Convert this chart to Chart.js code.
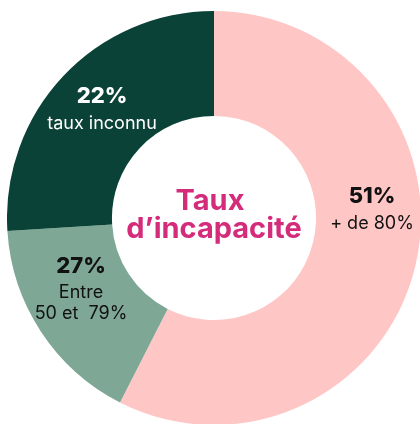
<!DOCTYPE html>
<html>
<head>
<meta charset="utf-8">
<script src="https://cdn.jsdelivr.net/npm/chart.js@4/dist/chart.umd.min.js"></script>
<style>
  html, body { margin: 0; padding: 0; background: #fff; overflow: hidden; width: 420px; height: 424px; }
  #wrap { position: absolute; left: 7px; top: 11px; width: 414px; height: 414px; }
</style>
</head>
<body>
<div id="wrap"><canvas id="donut"></canvas></div>
<script>
// categories, in drawing order (clockwise from the top)
const categories = ['+ de 80%', 'Entre 50 et 79%', 'taux inconnu'];
// share of the ring each slice takes in the picture
const sliceShares = [57.5, 16.5, 26];
// percentages printed on the slices
const percentLabels = ['51%', '27%', '22%'];
// caption lines under each percentage
const captionLines = [['+ de 80%'], ['Entre', '50 et  79%'], ['taux inconnu']];
const centerTitle = ['Taux', 'd\u2019incapacité'];

const sliceColors = ['#ffc6c6', '#7ea796', '#0a4237'];
const textColors = ['#111111', '#111111', '#ffffff'];
// where each label block sits, relative to the ring centre
const labelOffsets = [[158, -8], [-133, 72], [-112, -108]];

const FONT = 'Inter, "Noto Sans", sans-serif';

const labelPlugin = {
    id: 'sliceLabels',
    afterDraw(chart) {
        const ctx = chart.ctx;
        const arc = chart.getDatasetMeta(0).data[0];
        const cx = arc.x, cy = arc.y;
        ctx.save();
        ctx.textAlign = 'center';
        ctx.textBaseline = 'middle';

        percentLabels.forEach((pct, i) => {
            const x = cx + labelOffsets[i][0];
            const lines = captionLines[i];
            const blockH = 27 + (lines.length - 1) * 21;
            let y = cy + labelOffsets[i][1] - blockH / 2;
            ctx.fillStyle = textColors[i];
            ctx.font = '800 22px ' + FONT;
            ctx.fillText(pct, x, y);
            ctx.font = '18px ' + FONT;
            y += 27;
            lines.forEach(line => {
                ctx.fillText(line, x, y);
                y += 21;
            });
        });

        // centre title
        ctx.fillStyle = '#d42b7b';
        ctx.font = 'bold 29px ' + FONT;
        ctx.fillText(centerTitle[0], cx - 4, cy - 17);
        ctx.fillText(centerTitle[1], cx, cy + 11);
        ctx.restore();
    }
};

new Chart(document.getElementById('donut'), {
    type: 'doughnut',
    data: {
        labels: categories,
        datasets: [{
            data: sliceShares,
            backgroundColor: sliceColors,
            borderWidth: 0,
            hoverOffset: 0
        }]
    },
    options: {
        responsive: true,
        maintainAspectRatio: false,
        animation: false,
        cutout: '49.3%',
        layout: { padding: 0 },
        events: [],
        plugins: {
            legend: { display: false },
            tooltip: { enabled: false }
        }
    },
    plugins: [labelPlugin]
});
</script>
</body>
</html>
